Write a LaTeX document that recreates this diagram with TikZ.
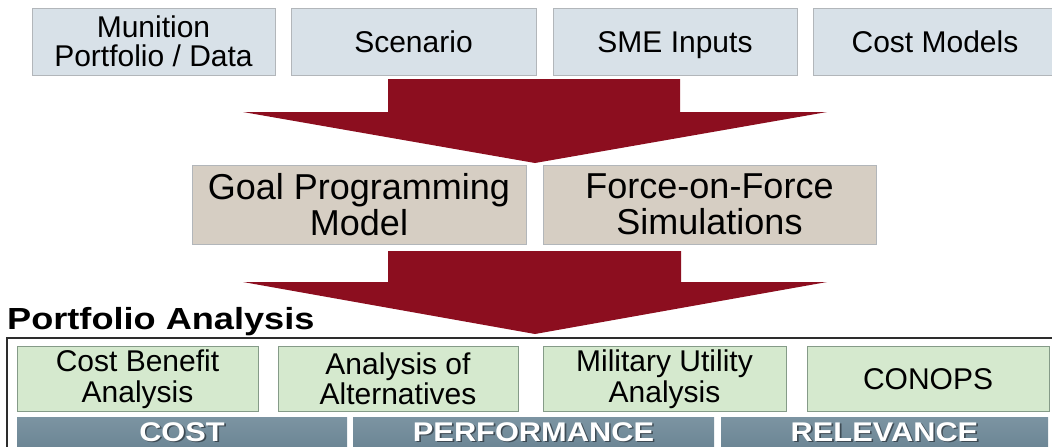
\documentclass[tikz,border=0pt]{standalone}
\usepackage{fontspec}
\setmainfont{Liberation Sans}
\usepackage{graphicx}
\definecolor{topfill}{RGB}{216,225,232}
\definecolor{midfill}{RGB}{214,206,195}
\definecolor{greenfill}{RGB}{213,233,206}
\definecolor{barfill}{RGB}{108,134,149}
\definecolor{bartop}{RGB}{124,148,162}
\definecolor{arrowred}{RGB}{140,14,31}
\definecolor{boxline}{RGB}{178,182,186}
\definecolor{frameline}{RGB}{45,45,45}
\definecolor{shadowgray}{RGB}{40,48,55}
\begin{document}
\begin{tikzpicture}[x=1pt,y=-1pt,
  basebox/.style={draw=boxline, line width=0.7pt, inner sep=0pt, align=center, anchor=center},
  oneline/.style={text height=21.5pt, text depth=0pt},
  topbox/.style={basebox, fill=topfill, minimum height=67, font=\fontsize{30}{29.5}\selectfont},
  midbox/.style={basebox, fill=midfill, minimum height=79, font=\fontsize{36}{35.5}\selectfont},
  greenbox/.style={basebox, fill=greenfill, draw=boxline!80!green!40!gray, minimum height=65, font=\fontsize{30}{30.5}\selectfont},
  barbox/.style={inner sep=0pt, anchor=center, minimum height=30, top color=bartop, bottom color=barfill, draw=none},
  bartext/.style={text=white, font=\bfseries\fontsize{27}{27}\selectfont, inner sep=0pt},
  barshadow/.style={text=shadowgray, text opacity=0.7, font=\bfseries\fontsize{27}{27}\selectfont, inner sep=0pt},
  bigarrow/.style={fill=arrowred, draw=none}
]
\useasboundingbox (0,0) rectangle (1052,447);
\clip (0,0) rectangle (1052,447);

% top input boxes
\node[topbox, minimum width=243] (mun) at (153.5,41.5) {Munition\\Portfolio / Data};
\node[topbox, oneline, minimum width=245] (scen) at (413.5,41.5) {Scenario};
\node[topbox, oneline, minimum width=244] (sme) at (675,41.5) {SME Inputs};
\node[topbox, oneline, minimum width=244] (cost) at (935,41.5) {Cost Models};

% first block arrow
\coordinate (a1) at (535,163);
\fill[bigarrow] (388,79) -- (680,79) -- (680,112) -- (827,112) -- (a1) -- (243,112) -- (388,112) -- cycle;

% middle model boxes
\node[midbox, minimum width=334] (goal) at (359,204.5) {Goal Programming\\Model};
\node[midbox, minimum width=333] (fof) at (709.5,204.5) {Force-on-Force\\Simulations};

% second block arrow
\coordinate (a2) at (535,334);
\fill[bigarrow] (388,251) -- (681,251) -- (681,282) -- (827,282) -- (a2) -- (243,282) -- (388,282) -- cycle;

% portfolio analysis frame
\node[anchor=base west, inner sep=0pt, font=\bfseries\fontsize{30.5}{30.5}\selectfont] (title) at (7,329.5) {\scalebox{1.185}[1]{Portfolio Analysis}};
\draw[frameline, line width=2pt] (7,460) -- (7,338) -- (1060,338);

\node[greenbox, minimum width=241] (cba) at (137.5,379) {Cost Benefit\\Analysis};
\node[greenbox, minimum width=240] (aoa) at (398,379) {Analysis of\\Alternatives};
\node[greenbox, minimum width=243] (mua) at (664.5,379) {Military Utility\\Analysis};
\node[greenbox, oneline, minimum width=242] (conops) at (928,378.5) {CONOPS};

\node[barbox, minimum width=330] (barc) at (182,432) {};
\node[barbox, minimum width=361] (barp) at (533.5,432) {};
\node[barbox, minimum width=327] (barr) at (884.5,432) {};
\node[barshadow] at ([shift={(1.6,1.6)}]barc) {\scalebox{1.14}[1]{COST}};
\node[barshadow] at ([shift={(1.6,1.6)}]barp) {\scalebox{1.14}[1]{PERFORMANCE}};
\node[barshadow] at ([shift={(1.6,1.6)}]barr) {\scalebox{1.14}[1]{RELEVANCE}};
\node[bartext] (tc) at (barc) {\scalebox{1.14}[1]{COST}};
\node[bartext] (tp) at (barp) {\scalebox{1.14}[1]{PERFORMANCE}};
\node[bartext] (tr) at (barr) {\scalebox{1.14}[1]{RELEVANCE}};
\end{tikzpicture}
\end{document}
